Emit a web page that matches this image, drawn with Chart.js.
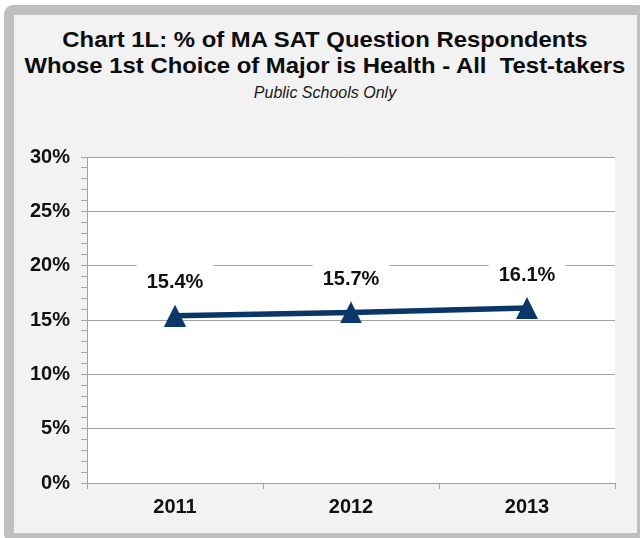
<!DOCTYPE html>
<html>
<head>
<meta charset="utf-8">
<script src="https://cdn.jsdelivr.net/npm/chart.js@4.4.1/dist/chart.umd.min.js"></script>
<style>
  html, body { margin: 0; padding: 0; width: 640px; height: 538px; overflow: hidden; background: #fff; }
  #frame {
    position: absolute; left: 4px; top: 5px; width: 643px; height: 538px;
    box-sizing: border-box; border: 10px solid #bfbfbf; border-radius: 9px; background: #f2f2f2;
  }
  .ttl {
    position: absolute; left: 0; width: 650px; text-align: center; white-space: pre;
    font-family: "Liberation Sans", Arial, sans-serif; color: #0d0d0d;
  }
  .ttl span { display: inline-block; transform-origin: 50% 50%; }
  #title1, #title2 { font-size: 22px; font-weight: bold; line-height: 22px; }
  #title1 { top: 29px; }
  #title2 { top: 55px; }
  #subtitle { top: 85px; font-size: 16px; font-style: italic; line-height: 16px; color: #1a1a1a; }
  #chart { position: absolute; left: 0; top: 0; }
</style>
</head>
<body>
<div id="frame"></div>
<div class="ttl" id="title1"><span>Chart 1L: % of MA SAT Question Respondents</span></div>
<div class="ttl" id="title2"><span>Whose 1st Choice of Major is Health - All  Test-takers</span></div>
<div class="ttl" id="subtitle"><span>Public Schools Only</span></div>
<canvas id="chart" width="640" height="538"></canvas>
<script>
// data
const years = ["2011", "2012", "2013"];
const healthPct = [15.4, 15.7, 16.1];
const yMin = 0;
const yMax = 30;
const yMajorStep = 5;

const FONT = '"Liberation Sans", Arial, sans-serif';
const NAVY = "#0b3668";
const GRID = "#a3a3a3";

// squeeze the title like the original (Excel renders it narrower)
(function fitTitle() {
  const line2 = document.querySelector("#title2 span");
  const sx = 601 / line2.getBoundingClientRect().width;
  document.querySelectorAll("#title1 span, #title2 span").forEach((s) => {
    s.style.transform = `scaleX(${sx})`;
  });
})();

function triangleMark(w, h, color) {
  const c = document.createElement("canvas");
  c.width = w;
  c.height = h;
  const g = c.getContext("2d");
  g.fillStyle = color;
  g.beginPath();
  g.moveTo(w / 2, 0);
  g.lineTo(w, h);
  g.lineTo(0, h);
  g.closePath();
  g.fill();
  return c;
}

const plotBackground = {
  id: "plotBackground",
  beforeDraw(chart) {
    const { ctx, chartArea: a } = chart;
    ctx.save();
    ctx.fillStyle = "#fff";
    ctx.fillRect(a.left, a.top, a.right - a.left, a.bottom - a.top);
    ctx.restore();
  },
};

// value labels sitting on white boxes above each point
const valueLabels = {
  id: "valueLabels",
  afterDatasetsDraw(chart) {
    const ctx = chart.ctx;
    const meta = chart.getDatasetMeta(0);
    ctx.save();
    ctx.font = `bold 20px ${FONT}`;
    ctx.textAlign = "center";
    ctx.textBaseline = "middle";
    meta.data.forEach((pt, i) => {
      const txt = healthPct[i].toFixed(1) + "%";
      const w = ctx.measureText(txt).width + 20;
      const cy = pt.y - 34;
      ctx.fillStyle = "#fff";
      ctx.fillRect(pt.x - w / 2, cy - 17, w, 34);
      ctx.fillStyle = "#111";
      ctx.fillText(txt, pt.x, cy + 1);
    });
    ctx.restore();
  },
};

new Chart(document.getElementById("chart"), {
  type: "line",
  data: {
    labels: years,
    datasets: [
      {
        data: healthPct,
        borderColor: NAVY,
        borderWidth: 5.5,
        pointStyle: triangleMark(22, 22, NAVY),
        pointRadius: 11,
        tension: 0,
        fill: false,
      },
    ],
  },
  options: {
    responsive: false,
    animation: false,
    devicePixelRatio: 1,
    layout: { padding: { top: 157, right: 25, left: 0, bottom: 0 } },
    plugins: { legend: { display: false }, tooltip: { enabled: false } },
    scales: {
      x: {
        offset: true,
        grid: { offset: true, drawOnChartArea: false, tickLength: 6, tickColor: GRID },
        border: { color: GRID, width: 1 },
        ticks: { color: "#111", font: { family: FONT, size: 20, weight: "bold" }, padding: 6 },
        afterFit: (s) => { s.height = 55; },
      },
      y: {
        min: yMin,
        max: yMax,
        grid: {
          color: (c) => (c.tick && c.tick.value % yMajorStep === 0 ? GRID : "rgba(0,0,0,0)"),
          tickColor: GRID,
          tickLength: 6,
          lineWidth: 1,
        },
        border: { color: GRID, width: 1 },
        ticks: {
          stepSize: 1,
          autoSkip: false,
          padding: 11,
          color: "#111",
          font: { family: FONT, size: 20, weight: "bold" },
          callback: (v) => (v % yMajorStep === 0 ? v + "%" : ""),
        },
        afterFit: (s) => { s.width = 87; },
      },
    },
  },
  plugins: [plotBackground, valueLabels],
});
</script>
</body>
</html>
